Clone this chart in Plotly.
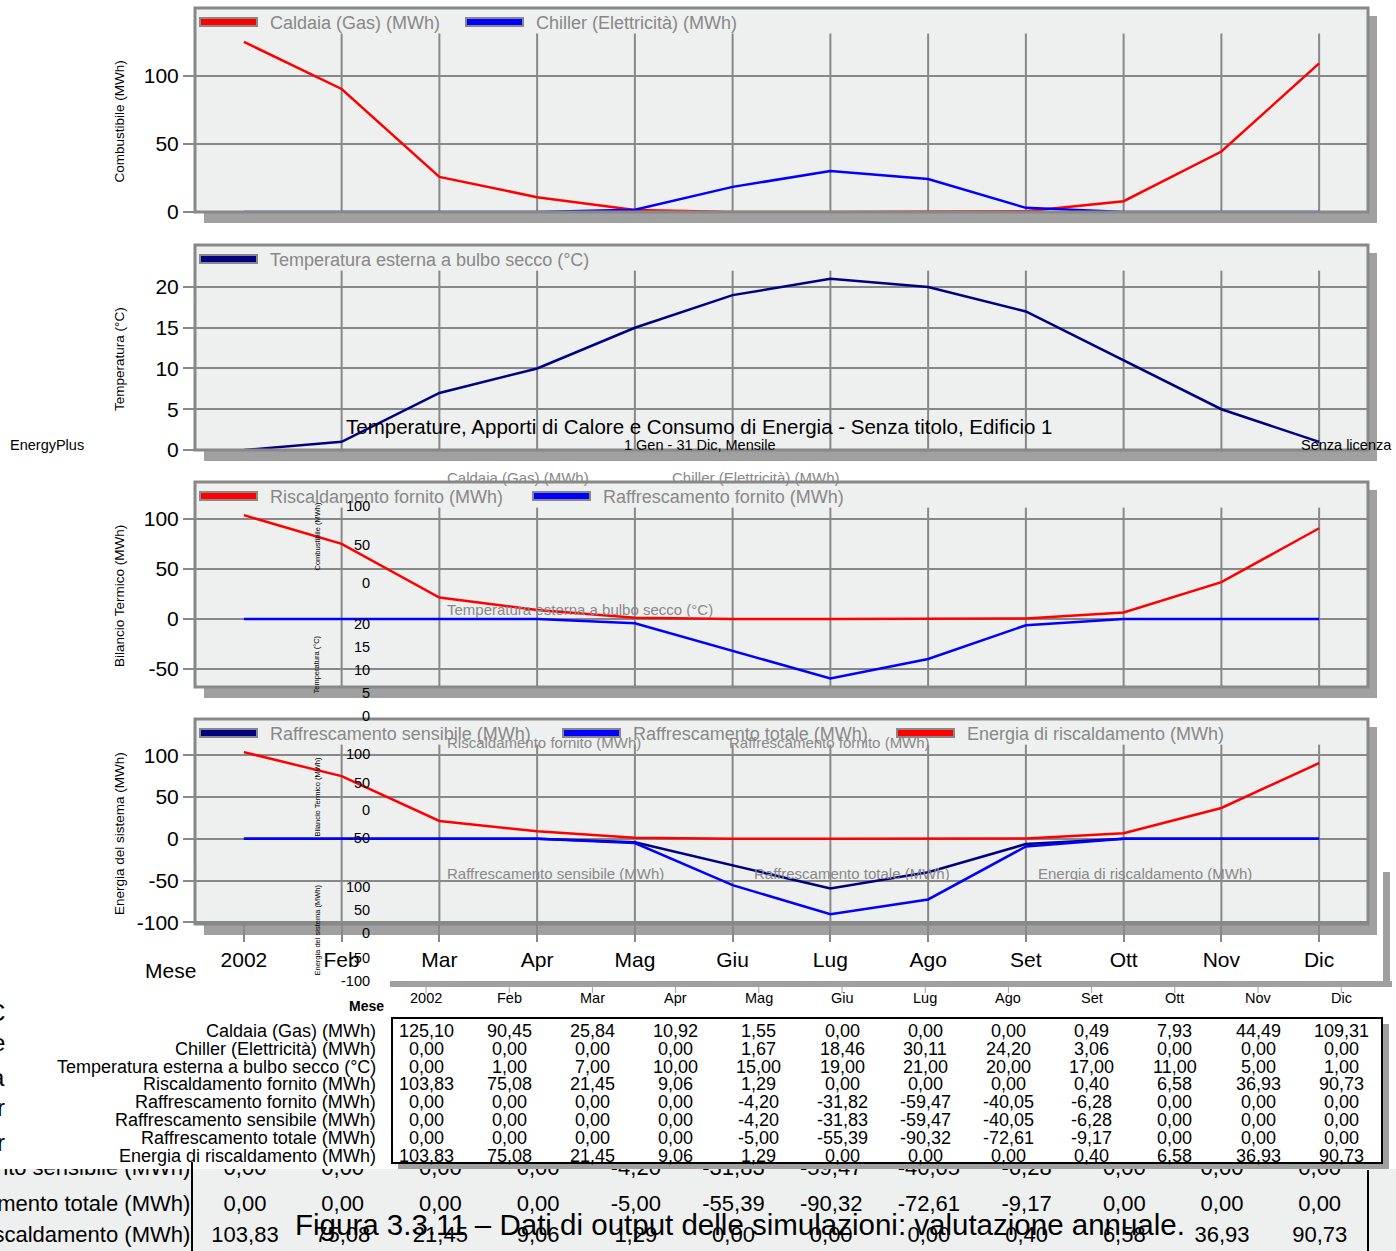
import plotly.graph_objects as go

W, H = 1396, 1251
H_FIG = 1262  # altezza effettiva della pagina fotografata
ARIAL = "Liberation Sans, Arial, sans-serif"
GRIGIO = "#888888"
OMBRA = "#a0a0a0"

# --- dati (valori mensili) ---
mesi = ['2002', 'Feb', 'Mar', 'Apr', 'Mag', 'Giu', 'Lug', 'Ago', 'Set', 'Ott', 'Nov', 'Dic']
caldaia_gas = [125.10, 90.45, 25.84, 10.92, 1.55, 0.00, 0.00, 0.00, 0.49, 7.93, 44.49, 109.31]
chiller_el = [0.00, 0.00, 0.00, 0.00, 1.67, 18.46, 30.11, 24.20, 3.06, 0.00, 0.00, 0.00]
temp_bulbo = [0.00, 1.00, 7.00, 10.00, 15.00, 19.00, 21.00, 20.00, 17.00, 11.00, 5.00, 1.00]
risc_fornito = [103.83, 75.08, 21.45, 9.06, 1.29, 0.00, 0.00, 0.00, 0.40, 6.58, 36.93, 90.73]
raffr_fornito = [0.00, 0.00, 0.00, 0.00, -4.20, -31.82, -59.47, -40.05, -6.28, 0.00, 0.00, 0.00]
raffr_sensibile = [0.00, 0.00, 0.00, 0.00, -4.20, -31.83, -59.47, -40.05, -6.28, 0.00, 0.00, 0.00]
raffr_totale = [0.00, 0.00, 0.00, 0.00, -5.00, -55.39, -90.32, -72.61, -9.17, 0.00, 0.00, 0.00]
energia_risc = [103.83, 75.08, 21.45, 9.06, 1.29, 0.00, 0.00, 0.00, 0.40, 6.58, 36.93, 90.73]

etichette_tabella = [
    'Caldaia (Gas) (MWh)', 'Chiller (Elettricità) (MWh)', 'Temperatura esterna a bulbo secco (°C)',
    'Riscaldamento fornito (MWh)', 'Raffrescamento fornito (MWh)', 'Raffrescamento sensibile (MWh)',
    'Raffrescamento totale (MWh)', 'Energia di riscaldamento (MWh)',
]
righe_tabella = [caldaia_gas, chiller_el, temp_bulbo, risc_fornito, raffr_fornito,
                 raffr_sensibile, raffr_totale, energia_risc]

# resti della tabella grande (in basso, parzialmente coperta)
etichette_sotto = ['nto sensibile (MWh)', 'amento totale (MWh)', 'scaldamento (MWh)']
righe_sotto = [raffr_sensibile, raffr_totale, energia_risc]


def px(x):
    return x / W


def py(y):
    return 1 - y / H


def fmt(v):
    return f"{v:.2f}".replace('.', ',')


pannelli = [
    dict(top=8, bottom=212, rng=[0, 150], ticks=[0, 50, 100], titolo='Combustibile (MWh)'),
    dict(top=245, bottom=450, rng=[0, 25.15], ticks=[0, 5, 10, 15, 20], titolo='Temperatura (°C)'),
    dict(top=482, bottom=687, rng=[-68, 137], ticks=[-50, 0, 50, 100], titolo='Bilancio Termico (MWh)'),
    dict(top=719, bottom=924, rng=[-102, 143.5], ticks=[-100, -50, 0, 50, 100], titolo='Energia del sistema (MWh)'),
]

serie = [
    (1, 'Caldaia (Gas) (MWh)', caldaia_gas, 'red'),
    (1, 'Chiller (Elettricità) (MWh)', chiller_el, 'blue'),
    (2, 'Temperatura esterna a bulbo secco (°C)', temp_bulbo, '#000080'),
    (3, 'Riscaldamento fornito (MWh)', risc_fornito, 'red'),
    (3, 'Raffrescamento fornito (MWh)', raffr_fornito, 'blue'),
    (4, 'Raffrescamento sensibile (MWh)', raffr_sensibile, '#000080'),
    (4, 'Raffrescamento totale (MWh)', raffr_totale, 'blue'),
    (4, 'Energia di riscaldamento (MWh)', energia_risc, 'red'),
]
# posizione x (pixel) del simbolo di legenda
pos_legenda = {
    'Caldaia (Gas) (MWh)': 200, 'Chiller (Elettricità) (MWh)': 466,
    'Temperatura esterna a bulbo secco (°C)': 200,
    'Riscaldamento fornito (MWh)': 200, 'Raffrescamento fornito (MWh)': 533,
    'Raffrescamento sensibile (MWh)': 200, 'Raffrescamento totale (MWh)': 563,
    'Energia di riscaldamento (MWh)': 897,
}

fig = go.Figure()
shapes = []
annotations = []


def txt(x, y, s, size, color='black', anchor='left', angle=0):
    annotations.append(dict(
        x=px(x), y=py(y), xref='paper', yref='paper',
        text=s, showarrow=False, xanchor=anchor, yanchor='middle', textangle=angle,
        font=dict(family=ARIAL, size=size, color=color)))


def rett(x0, y0, x1, y1, fill, line=None, layer='below'):
    shapes.append(dict(type='rect', xref='paper', yref='paper', x0=px(x0), x1=px(x1),
                       y0=py(y1), y1=py(y0), fillcolor=fill,
                       line=line or dict(width=0), layer=layer))


def linea(x0, y0, x1, y1, color, width):
    shapes.append(dict(type='line', xref='paper', yref='paper', x0=px(x0), x1=px(x1),
                       y0=py(y0), y1=py(y1), line=dict(color=color, width=width)))


for n, nome, valori, colore in serie:
    s = '' if n == 1 else str(n)
    fig.add_trace(go.Scatter(x=mesi, y=valori, mode='lines', name=nome,
                             line=dict(color=colore, width=2.5),
                             xaxis='x' + s, yaxis='y' + s, showlegend=False))
    top = pannelli[n - 1]['top']
    sx = pos_legenda[nome]
    rett(sx, top + 10, sx + 57, top + 18, colore, dict(color=GRIGIO, width=2), 'above')
    txt(sx + 68, top + 15, nome, 18, GRIGIO)

layout = {}
for i, p in enumerate(pannelli):
    n = i + 1
    s = '' if n == 1 else str(n)
    ultimo = n == len(pannelli)
    layout['xaxis' + s] = dict(
        domain=[px(195), px(1368)], anchor='y' + s, type='category', range=[-0.5, 11.5],
        showgrid=False, zeroline=False, showline=False,
        showticklabels=ultimo, ticks='outside' if ultimo else '', ticklen=17, tickwidth=2,
        tickcolor=GRIGIO, tickfont=dict(family=ARIAL, size=21, color='black'))
    layout['yaxis' + s] = dict(
        domain=[py(p['bottom']), py(p['top'])], anchor='x' + s, range=p['rng'],
        tickvals=p['ticks'], ticktext=[str(t) for t in p['ticks']],
        showgrid=True, gridcolor=GRIGIO, gridwidth=2, zeroline=False, showline=False,
        ticks='outside', ticklen=11, tickwidth=2, tickcolor=GRIGIO,
        tickfont=dict(family=ARIAL, size=21, color='black'))
    # griglia verticale che parte sotto la legenda
    for m in mesi:
        shapes.append(dict(type='line', xref='x' + s, yref=f'y{s} domain', x0=m, x1=m,
                           y0=0, y1=0.875, line=dict(color=GRIGIO, width=2), layer='below'))
    # ombra e bordo
    rett(204, p['bottom'], 1377, p['bottom'] + 11, OMBRA)
    rett(1369, p['top'] + 8, 1377, p['bottom'] + 11, OMBRA)
    rett(195, p['top'], 1368, p['bottom'], 'rgba(0,0,0,0)', dict(color=GRIGIO, width=3), 'above')
    txt(110, (p['top'] + p['bottom']) / 2 + 12, p['titolo'], 13.5, angle=-90)

txt(198, 970, 'Mese', 21, anchor='right')

# --- grafico sovrapposto (versione ridotta) ---
txt(699, 426, 'Temperature, Apporti di Calore e Consumo di Energia - Senza titolo, Edificio 1', 20.5, anchor='center')
txt(700, 445, '1 Gen - 31 Dic, Mensile', 14.5, anchor='center')
txt(8, 445, 'EnergyPlus', 14.5)
txt(1394, 445, 'Senza licenza', 14.5, anchor='right')

txt(445, 478, 'Caldaia (Gas) (MWh)', 15, GRIGIO)
txt(670, 478, 'Chiller (Elettricità) (MWh)', 15, GRIGIO)
txt(445, 609, 'Temperatura esterna a bulbo secco (°C)', 15, GRIGIO)
txt(445, 742, 'Riscaldamento fornito (MWh)', 15, GRIGIO)
txt(727, 742, 'Raffrescamento fornito (MWh)', 15, GRIGIO)
txt(445, 874, 'Raffrescamento sensibile (MWh)', 15, GRIGIO)
txt(752, 874, 'Raffrescamento totale (MWh)', 15, GRIGIO)
txt(1036, 874, 'Energia di riscaldamento (MWh)', 15, GRIGIO)

ghost_ticks = [
    (['100', '50', '0'], [506, 545, 583]),
    (['20', '15', '10', '5', '0'], [624, 647, 670, 693, 716]),
    (['100', '50', '0', '-50'], [754, 783, 810, 838]),
    (['100', '50', '0', '-50', '-100'], [887, 910, 933, 958, 981]),
]
for etich, ys in ghost_ticks:
    for e, y in zip(etich, ys):
        txt(372, y, e, 14.5, anchor='right')
txt(310, 537, 'Combustibile (MWh)', 7.5, angle=-90)
txt(310, 665, 'Temperatura (°C)', 7.5, angle=-90)
txt(310, 797, 'Bilancio Termico (MWh)', 7.5, angle=-90)
txt(310, 930, 'Energia del sistema (MWh)', 7.5, angle=-90)
txt(386, 1006, '<b>Mese</b>', 14, anchor='right')

rett(390, 981, 1392, 987, OMBRA)
rett(1383, 872, 1390, 987, OMBRA)

col_x = [426 + i * 83.2 for i in range(len(mesi))]
for m, cx in zip(mesi, col_x):
    linea(cx, 987, cx, 993, OMBRA, 1)
    txt(cx, 998, m, 14.5, anchor='center')

# tabella
rett(398, 1024, 1389, 1169, OMBRA, layer='above')
rett(392, 1018, 1382, 1163, 'white', dict(color='black', width=2), 'above')
for r, (lab, riga) in enumerate(zip(etichette_tabella, righe_tabella)):
    y = 1031 + r * 17.8
    txt(378, y, lab, 18, anchor='right')
    for cx, v in zip(col_x, riga):
        txt(cx, y, fmt(v), 18, anchor='center')

# resti della tabella grande sottostante (testo ritagliato dall'area degli assi)
linea(192, 1162, 192, 1251, 'black', 2)
linea(1368, 1170, 1368, 1251, 'black', 2)
for lettera, y in zip(['C', 'e', 'a', 'r', 'r'], [1012, 1042, 1077, 1107, 1142]):
    txt(7, y, lettera, 24, anchor='right')

y_sotto = [1169, 1205, 1236]
for lab, riga, y in zip(etichette_sotto, righe_sotto, y_sotto):
    fig.add_trace(go.Scatter(x=list(range(len(mesi))), y=[y] * len(mesi), mode='text',
                             text=[fmt(v) for v in riga], textposition='middle center',
                             textfont=dict(family=ARIAL, size=22, color='black'),
                             xaxis='x5', yaxis='y5', showlegend=False, cliponaxis=True,
                             hoverinfo='skip'))
    fig.add_trace(go.Scatter(x=[-0.56], y=[y], mode='text', text=[lab], textposition='middle left',
                             textfont=dict(family=ARIAL, size=22, color='black'),
                             xaxis='x5', yaxis='y5', showlegend=False, cliponaxis=True,
                             hoverinfo='skip'))
layout['xaxis5'] = dict(domain=[0, 1], anchor='y5', range=[-245 / 97.7, (W - 245) / 97.7], visible=False)
layout['yaxis5'] = dict(domain=[0, py(1169)], anchor='x5', range=[H, 1169], visible=False)

txt(740, 1224, 'Figura 3.3.11 – Dati di output delle simulazioni: valutazione annuale.', 29.5, anchor='center')

fig.update_layout(
    width=W, height=H_FIG, margin=dict(l=0, r=0, t=0, b=0),
    paper_bgcolor='white', plot_bgcolor='#eeefef',
    shapes=shapes, annotations=annotations, **layout)

fig.write_html("out.html", config={'displayModeBar': False},
               post_script="document.body.style.margin='0';")
